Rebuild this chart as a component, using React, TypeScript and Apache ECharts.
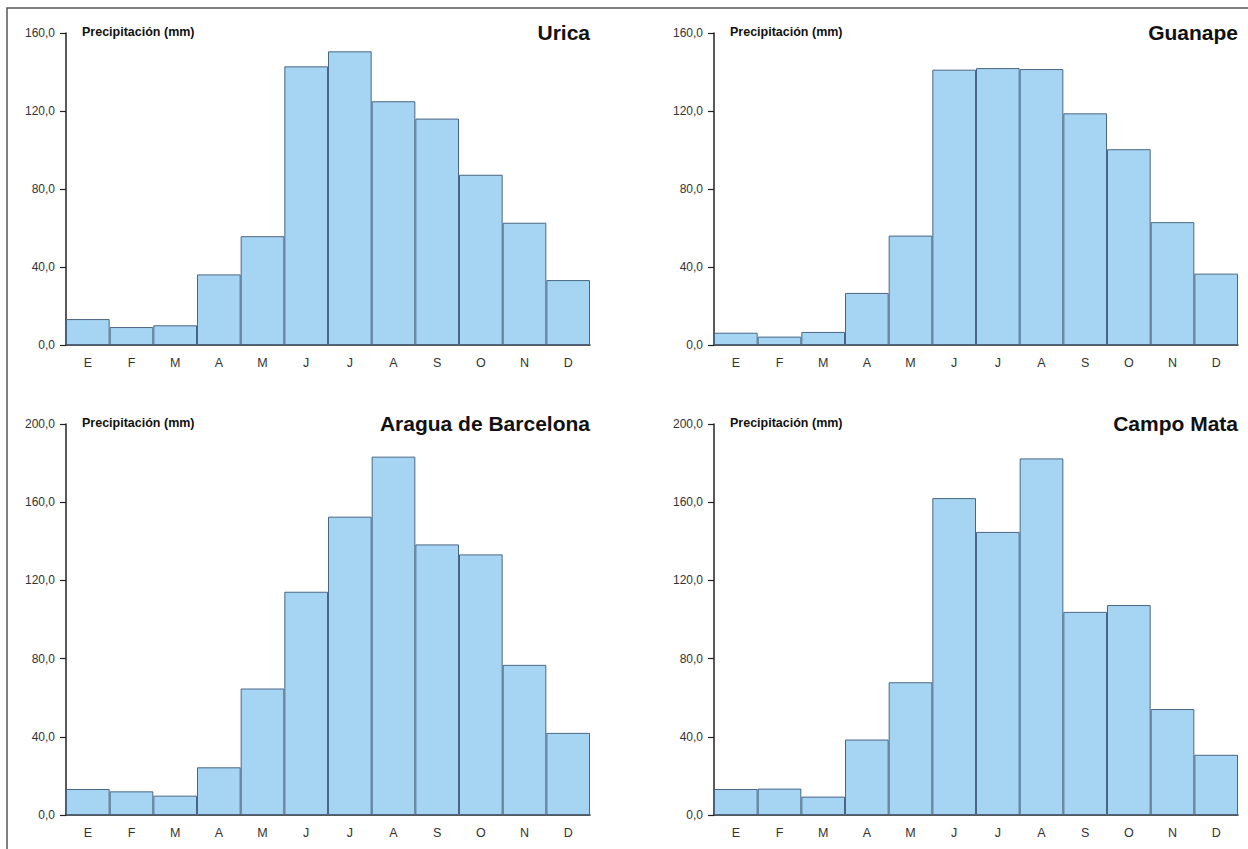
import React, { useEffect, useRef } from "react";
import * as echarts from "echarts";

const months = ["E", "F", "M", "A", "M", "J", "J", "A", "S", "O", "N", "D"];
const stationNames = ["Urica", "Guanape", "Aragua de Barcelona", "Campo Mata"];
const uricaValues = [13.3, 9.2, 10.1, 36.2, 55.8, 142.9, 150.6, 125.0, 116.1, 87.3, 62.7, 33.3];
const guanapeValues = [6.3, 4.3, 6.7, 26.7, 56.1, 141.2, 142.0, 141.5, 118.8, 100.4, 63.0, 36.6];
const araguaValues = [13.3, 12.1, 9.9, 24.4, 64.7, 114.2, 152.6, 183.3, 138.4, 133.3, 76.8, 42.0];
const campoMataValues = [13.3, 13.5, 9.4, 38.6, 67.9, 162.1, 144.8, 182.4, 103.9, 107.4, 54.2, 30.8];
const yMaxes = [160, 160, 200, 200];
const yInterval = 40;
const yAxisTitle = "Precipitación (mm)";

const FONT = "'Liberation Sans', Arial, sans-serif";

export default function App() {
  const ref = useRef<HTMLDivElement>(null);

  useEffect(() => {
    if (!ref.current) return;
    const chart = echarts.init(ref.current, null, { renderer: "svg" });
    const allValues = [uricaValues, guanapeValues, araguaValues, campoMataValues];
    const grids = [
      { left: 66, top: 33, width: 524, height: 312 },
      { left: 714, top: 33, width: 524, height: 312 },
      { left: 66, top: 424, width: 524, height: 391 },
      { left: 714, top: 424, width: 524, height: 391 },
    ];
    const titles: any[] = [];
    grids.forEach((g, i) => {
      titles.push({
        text: stationNames[i],
        right: 1248 - (g.left + g.width),
        top: g.top - 11,
        textStyle: { fontFamily: FONT, fontSize: 21, fontWeight: "bold", color: "#111" },
        padding: 0,
      });
      titles.push({
        text: yAxisTitle,
        left: g.left + 16,
        top: g.top - 8,
        textStyle: { fontFamily: FONT, fontSize: 12.5, fontWeight: "bold", color: "#111" },
        padding: 0,
      });
    });

    const option: any = {
      animation: false,
      backgroundColor: "#ffffff",
      title: titles,
      grid: grids.map((g) => ({ ...g, containLabel: false })),
      xAxis: grids.map((_, i) => ({
        type: "category",
        gridIndex: i,
        data: months,
        axisLine: { show: true, lineStyle: { color: "#222", width: 1.5 } },
        axisTick: { show: false },
        axisLabel: { color: "#333", fontFamily: FONT, fontSize: 12.5, margin: 11 },
        splitLine: { show: false },
      })),
      yAxis: grids.map((_, i) => ({
        type: "value",
        gridIndex: i,
        min: 0,
        max: yMaxes[i],
        interval: yInterval,
        axisLine: { show: true, lineStyle: { color: "#222", width: 1.5 } },
        axisTick: { show: true, length: 6, lineStyle: { color: "#222", width: 1.2 } },
        axisLabel: {
          color: "#333",
          fontFamily: FONT,
          fontSize: 12,
          margin: 11,
          formatter: (v: number) => v.toFixed(1).replace(".", ","),
        },
        splitLine: { show: false },
      })),
      series: allValues.map((vals, i) => ({
        type: "bar",
        xAxisIndex: i,
        yAxisIndex: i,
        data: vals,
        barCategoryGap: "0%",
        itemStyle: { color: "#a6d5f4", borderColor: "#4a6684", borderWidth: 1 },
        emphasis: { disabled: true },
      })),
      graphic: [
        {
          type: "rect",
          shape: { x: 7, y: 8, width: 1300, height: 900 },
          style: { fill: "none", stroke: "#555", lineWidth: 1.5 },
          silent: true,
          z: 100,
        },
      ],
    };
    chart.setOption(option);
    return () => chart.dispose();
  }, []);

  return (
    <div
      ref={ref}
      style={{ position: "absolute", left: 0, top: 0, width: 1248, height: 849, background: "#fff" }}
    />
  );
}
